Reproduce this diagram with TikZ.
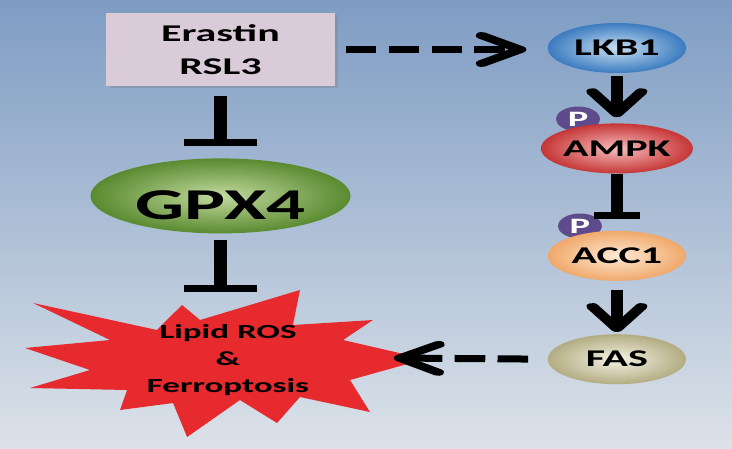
\documentclass[tikz,border=0pt]{standalone}
\usepackage{fontspec}
\setmainfont{Carlito}
\usetikzlibrary{positioning,arrows.meta,shapes.geometric,shadows}
\definecolor{bgtop}{HTML}{7E9CC3}
\definecolor{bgmid}{HTML}{AABED6}
\definecolor{bgbot}{HTML}{DCE2E9}
\definecolor{drugfill}{HTML}{D9CBD8}
\definecolor{rosred}{HTML}{E62A2E}
\definecolor{gpxin}{HTML}{C2DA9E}
\definecolor{gpxout}{HTML}{5A8A30}
\definecolor{lkbin}{HTML}{C8DEF2}
\definecolor{lkbout}{HTML}{3B7BC0}
\definecolor{ampkin}{HTML}{F6BDBD}
\definecolor{ampkout}{HTML}{C63636}
\definecolor{accin}{HTML}{FDEAD4}
\definecolor{accout}{HTML}{F0A86A}
\definecolor{fasin}{HTML}{F4F2E4}
\definecolor{fasout}{HTML}{B3AC82}
\definecolor{phcol}{HTML}{5E4B8B}

\begin{document}
\begin{tikzpicture}[x=1pt,y=-1pt,
    drug/.style={rectangle,fill=drugfill,minimum width=130.8pt,minimum height=73pt,
      align=center,font=\fontsize{24}{33}\selectfont\bfseries,
      drop shadow={shadow xshift=2pt,shadow yshift=-2pt,opacity=.35}},
    prot/.style={ellipse,minimum width=79pt,minimum height=50pt,inner sep=0pt,
      shading=radial,inner color=#1in,outer color=#1out,
      font=\fontsize{24}{24}\selectfont\bfseries},
    phos/.style={circle,fill=phcol,minimum size=25pt,inner sep=0pt,text=white,
      font=\fontsize{22}{22}\selectfont\bfseries},
    act/.style={line width=7pt,-{Straight Barb[round,length=22pt,width=28pt]}},
    dashact/.style={act,dash pattern=on 17.5pt off 7pt},
    inhib/.style={line width=7pt,-{Bar[width=#1]}},
    inhib/.default=26pt]
  \useasboundingbox (0,0) rectangle (732,448);
  \shade[top color=bgtop,middle color=bgmid,bottom color=bgbot] (0,0) rectangle (732,448);

  \begin{scope}[transform canvas={xscale=1.75}]
    % burst
    \fill[rosred] (18.9,303) -- (89.7,330) -- (104,305) -- (114.3,320) -- (171.4,290)
      -- (167.4,325) -- (213.1,320) -- (196,340) -- (243,359) -- (200,380)
      -- (211.4,412) -- (171.4,397) -- (158.3,423) -- (137.1,400) -- (106.9,437)
      -- (98.9,403) -- (68.6,410) -- (72.6,390) -- (17.1,388) -- (51.4,370)
      -- (14.3,348) -- (62.9,340) -- cycle;
    \node[align=center,font=\fontsize{20}{27}\selectfont\bfseries] (ros) at (130.3,360)
      {Lipid ROS\\\&\\Ferroptosis};
    \coordinate (rostop) at (126,292);
    \coordinate (rosend) at (225,358);

    % left column
    \node[drug] (drug) at (126,49.5) {Erastin\\RSL3};
    \node[prot=gpx,minimum width=148.6pt,minimum height=75pt,text height=48pt,text depth=0pt,
      font=\fontsize{44}{44}\selectfont\bfseries] (gpx) [below=72pt of drug] {GPX4};

    % right column
    \node[phos] (p1) at (330.3,119) {P};
    \node[phos] (p2) at (331.4,226) {P};
    \node[prot=lkb] (lkb) at (352.5,48) {LKB1};
    \node[prot=ampk] (ampk) [below=50pt of lkb] {AMPK};
    \node[prot=acc] (acc) [below=57pt of ampk] {ACC1};
    \node[prot=fas] (fas) [below=53pt of acc] {FAS};

    \draw[inhib=42pt,shorten <=10pt,shorten >=12pt] (drug) -- (gpx);
    \draw[inhib=42pt,shorten <=6pt] (gpx) -- (rostop);
    \draw[dashact,shorten <=6pt,shorten >=12pt] (drug.east) -- (drug.east -| lkb.west);
    \draw[act,shorten <=3pt,shorten >=6pt] (lkb) -- (ampk);
    \draw[inhib,shorten >=12pt] (ampk) -- (acc);
    \draw[act,shorten <=9pt,shorten >=2pt] (acc) -- (fas);
    \draw[dashact,shorten <=11pt] (fas.west) -- (rosend);
  \end{scope}
\end{tikzpicture}
\end{document}
